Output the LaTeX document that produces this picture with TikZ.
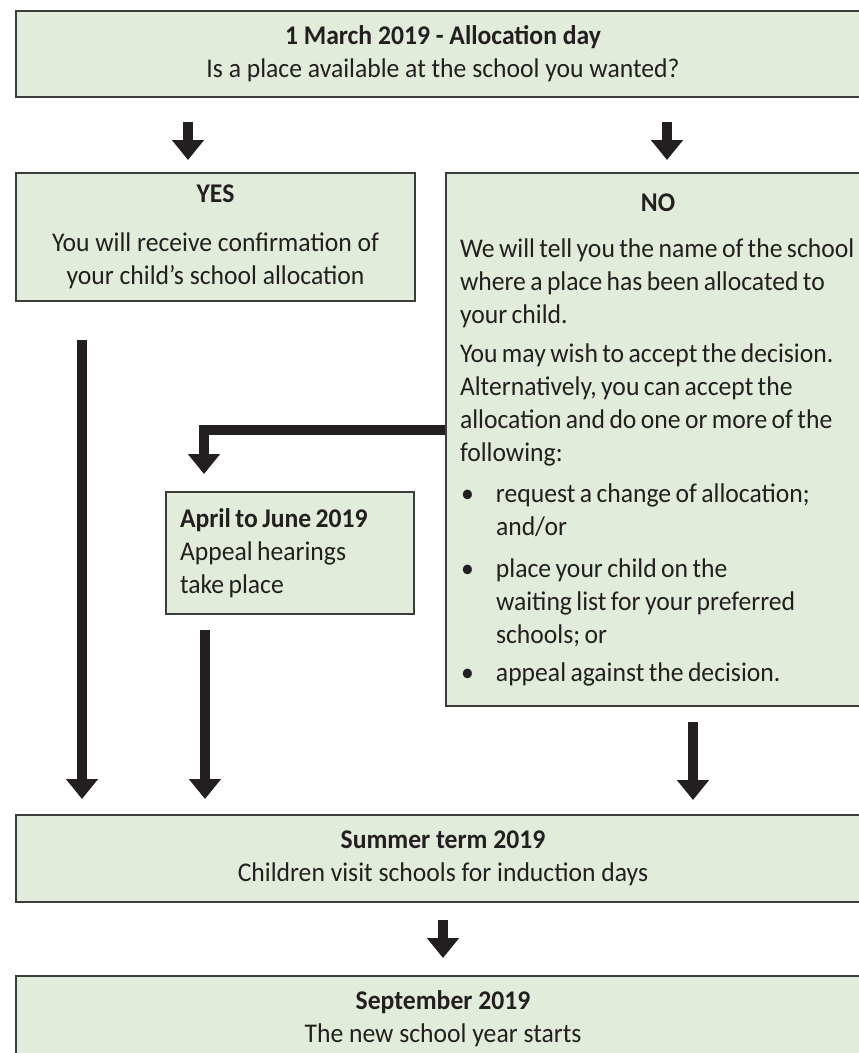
\documentclass[tikz,border=0pt]{standalone}
\usepackage{fontspec}
\setmainfont{Carlito}[FakeStretch=0.95]
\usepackage{xcolor}
\usepackage{tikz}
\usetikzlibrary{positioning, arrows.meta}
\definecolor{boxgreen}{RGB}{226,236,218}
\definecolor{boxline}{RGB}{60,60,59}
\definecolor{ink}{RGB}{35,31,32}

\begin{document}
\begin{tikzpicture}[x=1pt, y=-1pt,
    greenbox/.style={rectangle, draw=boxline, line width=2pt, fill=boxgreen, text=ink, font=\fontsize{27}{33}\selectfont, align=center, anchor=north west, inner sep=0pt},
    leftbox/.style={greenbox, align=left, inner xsep=14pt, execute at begin node={\spaceskip=4.4pt\xspaceskip=4.4pt\relax}},
    flowarrow/.style={draw=ink, line width=9.5pt, -{Triangle[width=31pt, length=20pt]}}
]
\useasboundingbox (0,0) rectangle (859,1053);
\clip (0,0) rectangle (859,1053);
\node[greenbox, minimum width=854pt, minimum height=86pt](alloc) at (15,10){\textbf{1 March 2019 - Allocation day}\\ Is a place available at the school you wanted?};
\node[greenbox, minimum width=399pt, minimum height=128pt](yes)[below right = 74pt and 0pt of alloc.south west]{\textbf{YES}\\[16pt] You will receive confirmation of\\ your child's school allocation};
\node[leftbox, text width=412pt, minimum height=533pt](no)[right = 29pt of yes.north east, anchor=north west]{\makebox[396pt]{\textbf{NO}}\\[13pt]
We will tell you the name of the school\\
where a place has been allocated to\\
your child.\\[6pt]
You may wish to accept the decision.\\
Alternatively, you can accept the\\
allocation and do one or more of the\\
following:\\[8pt]
\makebox[36pt][l]{\hspace{1pt}\textbullet}request a change of allocation;\\
\hspace*{36pt}and/or\\[9pt]
\makebox[36pt][l]{\hspace{1pt}\textbullet}place your child on the\\
\hspace*{36pt}waiting list for your preferred\\
\hspace*{36pt}schools; or\\[5pt]
\makebox[36pt][l]{\hspace{1pt}\textbullet}appeal against the decision.};
\node[leftbox, text width=220pt, minimum height=122pt](appeal)[below right = 189pt and 150pt of yes.south west]{\textbf{April to June 2019}\\ Appeal hearings\\ take place};
\node[greenbox, minimum width=854pt, minimum height=87pt](summer) at (15,814){\textbf{Summer term 2019}\\ Children visit schools for induction days};
\node[greenbox, minimum width=854pt, minimum height=86pt](september)[below right = 72pt and 0pt of summer.south west]{\textbf{September 2019}\\ The new school year starts};
\coordinate (yesfrom) at (188,122);
\coordinate (nofrom) at (667,122);
\coordinate (leftdown) at (82,340);
\coordinate (appealdown) at (205,630);
\coordinate (nodown) at (693,722);
\coordinate (summerdown) at (443,920);
\draw[flowarrow, shorten >=12pt] (yesfrom) -- (yesfrom |- yes.north);
\draw[flowarrow, shorten >=12pt] (nofrom) -- (nofrom |- no.north);
\draw[flowarrow] ([yshift=9.5pt]no.west) -| ([xshift=-86pt, yshift=17pt]appeal.north);
\draw[flowarrow, shorten >=15pt] (leftdown) -- (leftdown |- summer.north);
\draw[flowarrow, shorten >=15pt] (appealdown) -- (appealdown |- summer.north);
\draw[flowarrow, shorten >=14pt] (nodown) -- (nodown |- summer.north);
\draw[flowarrow, shorten >=17pt] (summerdown) -- (summerdown |- september.north);
\end{tikzpicture}
\end{document}
